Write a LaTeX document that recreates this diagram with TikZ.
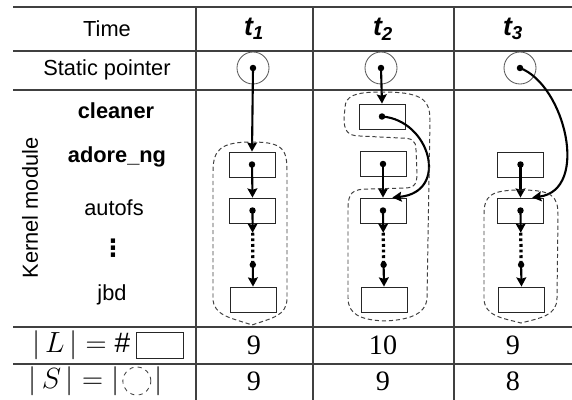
\documentclass[tikz,border=0pt]{standalone}
\usepackage{fontspec}
\setmainfont{Liberation Sans}
\newfontfamily\numfont{Liberation Serif}
\newfontfamily\symfont{DejaVu Sans}
\usetikzlibrary{arrows.meta,positioning,calc}

\tikzset{
  grid/.style={black!75,line width=0.8pt},
  lbl/.style={font=\fontsize{15.5}{18}\selectfont,inner sep=1pt},
  hdr/.style={font=\fontsize{19}{22}\selectfont\bfseries\itshape,inner sep=1pt},
  num/.style={font=\numfont\fontsize{20}{24}\selectfont,inner sep=1pt},
  modbox/.style={draw=black!85,line width=0.6pt,minimum width=1.15cm,minimum height=0.625cm,inner sep=0pt},
  ptrcirc/.style={draw=black!65,line width=0.6pt,circle,minimum size=0.8cm,inner sep=0pt},
  ptr/.style={line width=1.5pt,-{Stealth[length=6.5pt,width=7pt,inset=1pt]}},
  gap/.style={line width=2.3pt,dash pattern=on 2pt off 2pt},
  region/.style={black!75,line width=0.7pt,dash pattern=on 3pt off 2pt}
}

\begin{document}
\begin{tikzpicture}[x=0.025cm,y=-0.025cm]
\useasboundingbox (0,0) rectangle (572,400);

% table
\foreach \y in {7,51,90,327,364} \draw[grid] (13,\y) -- (572,\y);
\foreach \x in {196,313,454} \draw[grid] (\x,7) -- (\x,400);

% first column
\node[lbl] (time) at (107,29) {Time};
\node[lbl] (static) at (107,70) {Static pointer};
\node[lbl,rotate=90] (kmod) at (30,208) {Kernel module};
\node[lbl,font=\fontsize{15.5}{18}\selectfont\bfseries] (cleaner) at (116,111) {cleaner};
\node[lbl,font=\fontsize{15.5}{18}\selectfont\bfseries] (adore) at (117,157) {adore\_ng};
\node[lbl] (autofs) at (114,208) {autofs};
\node[lbl,font=\symfont\fontsize{17}{20}\selectfont\bfseries] (vdots) at (113,248) {⋮};
\node[lbl] (jbd) at (112,295) {jbd};

% time headers
\node[hdr] (h1) at (254,29) {t\textsubscript{1}};
\node[hdr] (h2) at (383,29) {t\textsubscript{2}};
\node[hdr] (h3) at (513,29) {t\textsubscript{3}};

% static pointers
\node[ptrcirc] (p1) at (253,68) {};
\node[ptrcirc] (p2) at (381,68) {};
\node[ptrcirc] (p3) at (520,68) {};

% module list entries
\node[modbox] (a1) at (252,164.5) {};
\node[modbox] (f1) at (252.5,210.5) {};
\node[modbox] (j1) at (253,299.5) {};
\node[modbox] (c2) at (382,116.5) {};
\node[modbox] (a2) at (383,164) {};
\node[modbox] (f2) at (383,210.5) {};
\node[modbox] (j2) at (384,299.5) {};
\node[modbox] (a3) at (520.5,164.5) {};
\node[modbox] (f3) at (520.5,210.5) {};
\node[modbox] (j3) at (521.5,299.5) {};

% list chains autofs ... jbd
\foreach \c in {1,2,3} {
  \coordinate (m\c) at ($(f\c.center)!0.25!(j\c.center)$);
  \coordinate (n\c) at ($(f\c.center)!0.61!(j\c.center)$);
  \draw[ptr] (f\c.center) -- (m\c);
  \draw[gap] (m\c) -- (n\c);
  \draw[ptr] (n\c) -- (j\c.north);
  \fill (f\c.center) circle (2.3pt) (n\c) circle (2.3pt);
}

% t1
\draw[ptr] (p1.center) -- (a1.north);
\draw[ptr] (a1.center) -- (f1.north);
\fill (p1.center) circle (2.3pt) (a1.center) circle (2.3pt);
\draw[region] (252,142) .. controls (284,142) and (287,150) .. (287,172)
  -- (287,298) .. controls (287,316) and (272,318) .. (252,325)
  .. controls (232,318) and (213,316) .. (213,298)
  -- (213,172) .. controls (213,150) and (220,142) .. (252,142) -- cycle;

% t2
\coordinate (f2r) at ($(f2.north)!0.4!(f2.north east)$);
\draw[ptr] (p2.center) -- (c2.north);
\draw[ptr] (a2.center) -- (f2.north);
\draw[ptr] (c2.center) .. controls (430,120) and (450,192) .. (f2r);
\fill (p2.center) circle (2.3pt) (c2.center) circle (2.3pt) (a2.center) circle (2.3pt);
\draw[region] (381,92) .. controls (420,92) and (430,98) .. (430,120)
  -- (427,298) .. controls (426,316) and (405,320) .. (385,321)
  .. controls (360,320) and (348,314) .. (348,298)
  -- (348,210) .. controls (348,192) and (352,189) .. (370,189)
  -- (405,188) .. controls (416,188) and (417,182) .. (417,172)
  -- (416,150) .. controls (416,140) and (412,138) .. (400,138)
  -- (360,136) .. controls (347,136) and (344,130) .. (344,118)
  -- (345,108) .. controls (345,96) and (355,92) .. (381,92) -- cycle;

% t3
\coordinate (f3r) at ($(f3.north)!0.5!(f3.north east)$);
\draw[ptr] (a3.center) -- (f3.north);
\draw[ptr] (p3.center) .. controls (565,85) and (590,190) .. (f3r);
\fill (p3.center) circle (2.3pt) (a3.center) circle (2.3pt);
\draw[region] (521,190) .. controls (552,190) and (558,196) .. (558,215)
  -- (557,298) .. controls (557,316) and (540,318) .. (521,323)
  .. controls (502,318) and (484,316) .. (484,298)
  -- (484,215) .. controls (484,196) and (490,190) .. (521,190) -- cycle;

% |L| and |S| rows
\node[num,anchor=east] (lenL) at (132,345) {$|\,L\,| = \#$};
\node[modbox,minimum width=1.175cm,minimum height=0.65cm,right=3pt of lenL] (keyL) {};
\node[num,anchor=east] (lenS) at (121,381) {$|\,S\,| = |$};
\node[draw=black!75,line width=0.6pt,dashed,circle,minimum size=0.7cm,inner sep=0pt,right=1pt of lenS] (keyS) {};
\node[num,right=1pt of keyS] (barS) {$|$};

\node[num] (l1) at (254,345) {9};
\node[num] (l2) at (383,345) {10};
\node[num] (l3) at (513,345) {9};
\node[num] (s1) at (254,381) {9};
\node[num] (s2) at (383,381) {9};
\node[num] (s3) at (513,381) {8};
\end{tikzpicture}
\end{document}
